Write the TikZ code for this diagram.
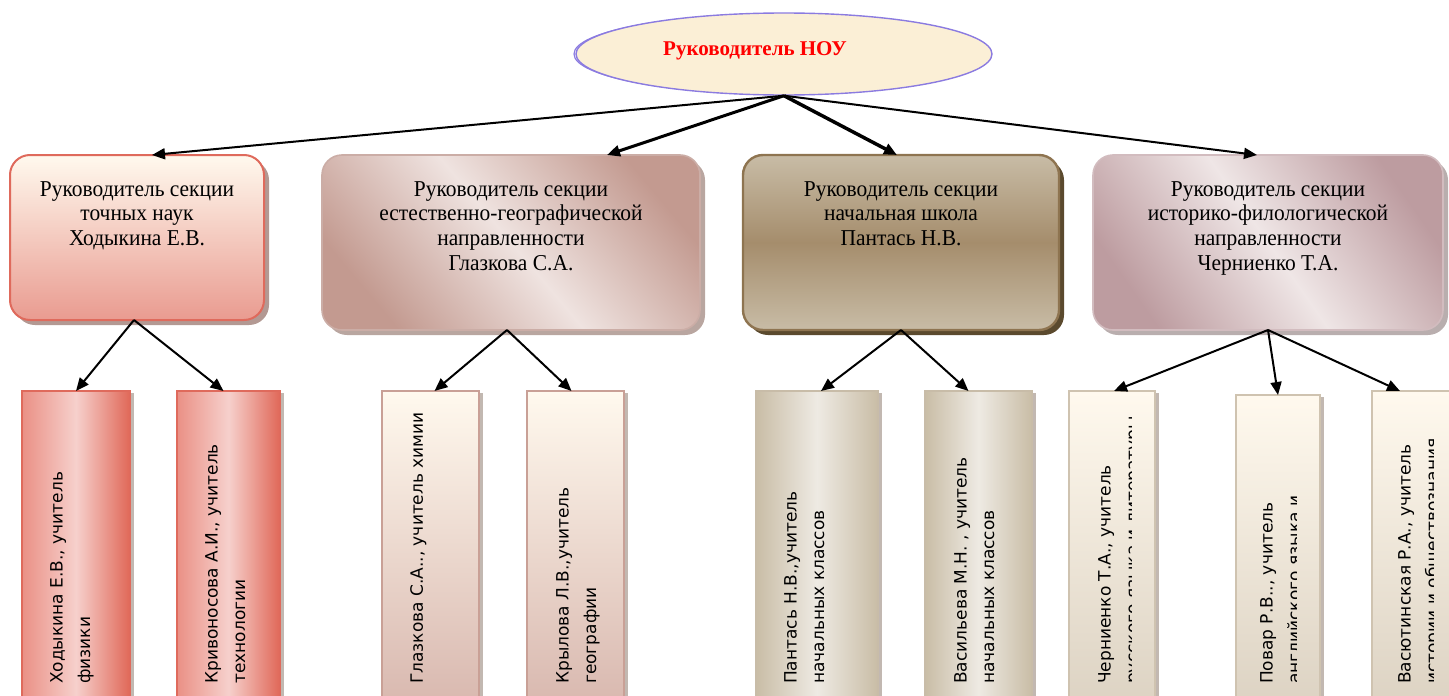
\documentclass[tikz,border=0pt]{standalone}
\usepackage{fontspec}
\setmainfont{Liberation Serif}
\newfontfamily\dvsans{DejaVu Sans}
\newfontfamily\tbfont[FakeStretch=0.945]{Liberation Serif}
\usetikzlibrary{shapes.geometric,arrows.meta,shadows}
\definecolor{ellfill}{HTML}{FBEFD6}
\definecolor{ellline}{HTML}{8B7BE0}
\definecolor{redtxt}{HTML}{FF0000}
\definecolor{aTop}{HTML}{FFF9EE}
\definecolor{aBot}{HTML}{E99B90}
\definecolor{aLine}{HTML}{DF6A5C}
\definecolor{aShad}{HTML}{A08078}
\definecolor{bDark}{HTML}{C39A90}
\definecolor{bLight}{HTML}{EFE3E0}
\definecolor{bLine}{HTML}{CBADA6}
\definecolor{bShad}{HTML}{A89088}
\definecolor{cTop}{HTML}{C8BCA6}
\definecolor{cMid}{HTML}{A58D6C}
\definecolor{cLine}{HTML}{8E7450}
\definecolor{cShad}{HTML}{5B4A2E}
\definecolor{dDark}{HTML}{BD9CA0}
\definecolor{dLight}{HTML}{EFE6E6}
\definecolor{dLine}{HTML}{D2BCBF}
\definecolor{dShad}{HTML}{A89A9A}
\definecolor{rEdge}{HTML}{E06858}
\definecolor{rEdgeL}{HTML}{EA9085}
\definecolor{rLight}{HTML}{F6D0CC}
\definecolor{gBot}{HTML}{D8B7AE}
\definecolor{gLine}{HTML}{C9A096}
\definecolor{pEdge}{HTML}{C9BDA6}
\definecolor{pLight}{HTML}{EEEAE3}
\definecolor{pLine}{HTML}{C8BCA8}
\definecolor{kBot}{HTML}{DCD2C2}
\definecolor{kLine}{HTML}{CFC3B0}
\definecolor{lShad}{HTML}{A89A90}
\begin{document}
\begin{tikzpicture}[x=1pt,y=-1pt,
  topbox/.style={rounded corners=20pt, draw, inner sep=0pt, outer sep=0pt},
  tbtext/.style={align=center, inner sep=0pt, anchor=north, font=\tbfont\fontsize{22.7pt}{24.8pt}\selectfont},
  lowbox/.style={draw, line width=1.6pt, inner sep=0pt, outer sep=0pt, minimum height=319pt,
     drop shadow={shadow xshift=4pt, shadow yshift=-2pt, fill=lShad, opacity=0.7}},
  redlow/.style={lowbox, left color=rEdgeL, right color=rEdge, middle color=rLight, draw=aLine},
  glzlow/.style={lowbox, top color=aTop, bottom color=gBot, draw=gLine},
  panlow/.style={lowbox, left color=pEdge, right color=pEdge, middle color=pLight, draw=pLine},
  krmlow/.style={lowbox, top color=aTop, bottom color=kBot, draw=kLine},
  ltext/.style={rotate=90, anchor=north west, align=left, inner sep=0pt,
     font=\dvsans\fontsize{17pt}{27.5pt}\selectfont},
  conn/.style={-{Triangle[length=13pt,width=11pt]}, line width=2pt},
]
\useasboundingbox (0,0) rectangle (1449,696);
\clip (0,0) rectangle (1449,696);

% root ellipse
\draw[ellline, line width=1.2pt] (781,54) ellipse [x radius=207pt, y radius=40pt];
\node[ellipse, draw=ellline, line width=1.4pt, fill=ellfill, minimum width=416pt, minimum height=82pt, inner sep=0pt] (root) at (784,54) {};
\node[anchor=base, inner sep=0pt, font=\bfseries\fontsize{21pt}{25pt}\selectfont, text=redtxt] (rootlabel) at (755,55) {Руководитель НОУ};

% section boxes
\node[topbox, minimum width=254pt, minimum height=165pt, line width=2pt, draw=aLine,
  top color=aTop, bottom color=aBot,
  drop shadow={shadow xshift=5pt, shadow yshift=-5pt, fill=aShad, opacity=0.8}] (b1) at (137,237.5) {};
\node[topbox, minimum width=378pt, minimum height=175pt, line width=1.6pt, draw=bLine,
  top color=bDark, bottom color=bDark, middle color=bLight, shading angle=-50,
  drop shadow={shadow xshift=5pt, shadow yshift=-5pt, fill=bShad, opacity=0.8}] (b2) at (511,242.5) {};
\node[topbox, minimum width=316pt, minimum height=175pt, line width=2.4pt, draw=cLine,
  top color=cTop, bottom color=cTop, middle color=cMid,
  drop shadow={shadow xshift=5pt, shadow yshift=-5pt, fill=cShad, opacity=1}] (b3) at (901,242.5) {};
\node[topbox, minimum width=350pt, minimum height=175pt, line width=1.6pt, draw=dLine,
  top color=dDark, bottom color=dDark, middle color=dLight, shading angle=-55,
  drop shadow={shadow xshift=5pt, shadow yshift=-5pt, fill=dShad, opacity=0.8}] (b4) at (1268,242.5) {};

\node[tbtext] (b1t) at (137,181) {Руководитель секции\\точных наук\\Ходыкина Е.В.};
\node[tbtext] (b2t) at (511,181) {Руководитель секции\\естественно-географической\\направленности\\Глазкова С.А.};
\node[tbtext] (b3t) at (901,181) {Руководитель секции\\начальная школа\\Пантась Н.В.};
\node[tbtext] (b4t) at (1268,181) {Руководитель секции\\историко-филологической\\направленности\\Черниенко Т.А.};

% teacher boxes
\node[redlow, minimum width=108pt] (t1) at (76,550.5) {};
\node[redlow, minimum width=103pt] (t2) at (228.5,550.5) {};
\node[glzlow, minimum width=97pt] (t3) at (430.5,550.5) {};
\node[glzlow, minimum width=97pt] (t4) at (575.5,550.5) {};
\node[panlow, minimum width=122pt] (t5) at (817,550.5) {};
\node[panlow, minimum width=107pt] (t6) at (978.5,550.5) {};
\node[krmlow, minimum width=86pt] (t7) at (1112,550.5) {};
\node[krmlow, minimum width=84pt, minimum height=315pt] (t8) at (1278,552.5) {};
\node[krmlow, minimum width=86pt] (t9) at (1415,550.5) {};

\node[ltext] (t1x) at (50,684) {Ходыкина Е.В., учитель\\физики};
\node[ltext] (t2x) at (205,684) {Кривоносова А.И., учитель\\технологии};
\node[ltext] (t3x) at (410,684) {Глазкова С.А.., учитель химии};
\node[ltext] (t4x) at (556,684) {Крылова Л.В.,учитель\\географии};
\node[ltext] (t5x) at (784,684) {Пантась Н.В.,учитель\\начальных классов};
\node[ltext] (t6x) at (954,684) {Васильева М.Н. , учитель\\начальных классов};
\begin{scope}
\clip (1070,393) rectangle (1131,696);
\node[ltext] (t7x) at (1098,684) {Черниенко Т.А., учитель\\русского языка и литературы};
\end{scope}
\begin{scope}
\clip (1237,396) rectangle (1296,696);
\node[ltext] (t8x) at (1260,684) {Повар Р.В.., учитель\\английского языка и};
\end{scope}
\begin{scope}
\clip (1373,393) rectangle (1433,696);
\node[ltext] (t9x) at (1398,684) {Васютинская Р.А., учитель\\истории и обществознания};
\end{scope}

% connectors from root
\draw[conn, line width=2pt] (root.south) -- ([xshift=15pt]b1.north);
\draw[conn, line width=3pt] (root.south) -- ([xshift=96pt]b2.north);
\draw[conn, line width=3.5pt] (root.south) -- ([xshift=-4pt]b3.north);
\draw[conn, line width=2pt] (root.south) -- ([xshift=-11pt]b4.north);

% connectors to teachers
\draw[conn] ([xshift=-3pt]b1.south) -- (t1.north);
\draw[conn] ([xshift=-3pt]b1.south) -- ([xshift=-5pt]t2.north);
\draw[conn] ([xshift=-4pt]b2.south) -- ([xshift=4pt]t3.north);
\draw[conn] ([xshift=-4pt]b2.south) -- ([xshift=-4pt]t4.north);
\draw[conn] (b3.south) -- ([xshift=4pt]t5.north);
\draw[conn] (b3.south) -- ([xshift=-10pt]t6.north);
\draw[conn] (b4.south) -- ([xshift=2pt]t7.north);
\draw[conn] (b4.south) -- (t8.north);
\draw[conn] (b4.south) -- ([xshift=-15pt]t9.north);
\end{tikzpicture}
\end{document}
